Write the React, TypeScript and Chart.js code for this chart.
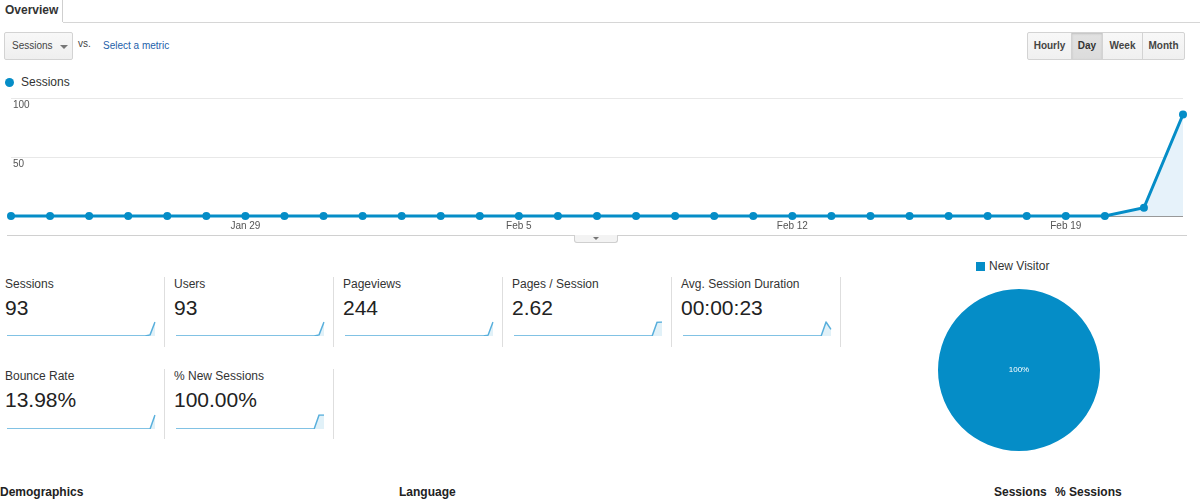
import React, { useEffect, useRef } from "react";
import { Chart, registerables } from "chart.js";
Chart.register(...registerables);

const dates = [
  "Jan 23", "Jan 24", "Jan 25", "Jan 26", "Jan 27", "Jan 28", "Jan 29", "Jan 30", "Jan 31",
  "Feb 1", "Feb 2", "Feb 3", "Feb 4", "Feb 5", "Feb 6", "Feb 7", "Feb 8", "Feb 9", "Feb 10",
  "Feb 11", "Feb 12", "Feb 13", "Feb 14", "Feb 15", "Feb 16", "Feb 17", "Feb 18", "Feb 19",
  "Feb 20", "Feb 21", "Feb 22",
];
const sessions = [0, 0, 0, 0, 0, 0, 0, 0, 0, 0, 0, 0, 0, 0, 0, 0, 0, 0, 0, 0, 0, 0, 0, 0, 0, 0, 0, 0, 0, 7, 86];
const users = [0, 0, 0, 0, 0, 0, 0, 0, 0, 0, 0, 0, 0, 0, 0, 0, 0, 0, 0, 0, 0, 0, 0, 0, 0, 0, 0, 0, 0, 7, 86];
const pageviews = [0, 0, 0, 0, 0, 0, 0, 0, 0, 0, 0, 0, 0, 0, 0, 0, 0, 0, 0, 0, 0, 0, 0, 0, 0, 0, 0, 0, 0, 14, 230];
const pagesPerSession = [0, 0, 0, 0, 0, 0, 0, 0, 0, 0, 0, 0, 0, 0, 0, 0, 0, 0, 0, 0, 0, 0, 0, 0, 0, 0, 0, 0, 0, 2.57, 2.63];
const avgDuration = [0, 0, 0, 0, 0, 0, 0, 0, 0, 0, 0, 0, 0, 0, 0, 0, 0, 0, 0, 0, 0, 0, 0, 0, 0, 0, 0, 0, 0, 44, 21];
const bounceRate = [0, 0, 0, 0, 0, 0, 0, 0, 0, 0, 0, 0, 0, 0, 0, 0, 0, 0, 0, 0, 0, 0, 0, 0, 0, 0, 0, 0, 0, 0, 15.12];
const newSessionsPct = [0, 0, 0, 0, 0, 0, 0, 0, 0, 0, 0, 0, 0, 0, 0, 0, 0, 0, 0, 0, 0, 0, 0, 0, 0, 0, 0, 0, 0, 100, 100];

const yTickValues = [0, 50, 100];
const xTickLabels = ["Jan 29", "Feb 5", "Feb 12", "Feb 19"];

const pieLabels = ["New Visitor"];
const pieValues = [93];
const pieText = "100%";

const scoreLabels = ["Sessions", "Users", "Pageviews", "Pages / Session", "Avg. Session Duration", "Bounce Rate", "% New Sessions"];
const scoreValues = ["93", "93", "244", "2.62", "00:00:23", "13.98%", "100.00%"];
const scoreSeries = [sessions, users, pageviews, pagesPerSession, avgDuration, bounceRate, newSessionsPct];

const periodButtons = ["Hourly", "Day", "Week", "Month"];
const bottomHeaders = ["Demographics", "Language", "Sessions", "% Sessions"];

const FONT = "'Liberation Sans', Arial, sans-serif";
const BLUE = "#058dc7";

function MainChart() {
  const ref = useRef<HTMLCanvasElement>(null);
  useEffect(() => {
    const chart = new Chart(ref.current!, {
      type: "line",
      data: {
        labels: dates,
        datasets: [
          {
            data: sessions,
            borderColor: BLUE,
            borderWidth: 3,
            backgroundColor: "#e6f2fa",
            fill: "origin",
            pointRadius: 4,
            pointBackgroundColor: BLUE,
            pointBorderWidth: 0,
            tension: 0,
            clip: false as any,
          },
        ],
      },
      options: {
        animation: false,
        responsive: false,
        events: [],
        layout: { padding: { left: 7, right: 17, top: 10, bottom: 2 } },
        plugins: { legend: { display: false }, tooltip: { enabled: false } },
        scales: {
          x: {
            grid: { display: false, drawTicks: false },
            border: { display: false },
            ticks: {
              autoSkip: false,
              maxRotation: 0,
              padding: 4,
              color: "#555",
              font: { family: FONT, size: 10 },
              callback: (_v: any, i: number) => (xTickLabels.includes(dates[i]) ? dates[i] : ""),
            },
          },
          y: {
            min: 0,
            max: 100,
            afterBuildTicks: (axis: any) => {
              axis.ticks = yTickValues.map((v) => ({ value: v }));
            },
            grid: {
              drawTicks: false,
              color: (ctx: any) => (ctx.tick && ctx.tick.value === 0 ? "#999" : "#e8e8e8"),
            },
            border: { display: false },
            ticks: {
              mirror: true,
              padding: 2,
              labelOffset: 7,
              color: "#555",
              font: { family: FONT, size: 10 },
              callback: (v: any) => (v === 0 ? "" : String(v)),
            },
          },
        },
      },
    });
    return () => chart.destroy();
  }, []);
  return (
    <canvas
      ref={ref}
      width={1200}
      height={150}
      style={{ position: "absolute", left: 0, top: 88, width: 1200, height: 150 }}
    />
  );
}

function Sparkline({ data, left, top }: { data: number[]; left: number; top: number }) {
  const ref = useRef<HTMLCanvasElement>(null);
  useEffect(() => {
    const chart = new Chart(ref.current!, {
      type: "line",
      data: {
        labels: dates,
        datasets: [
          {
            data,
            borderColor: "#58afdc",
            borderWidth: 1.5,
            backgroundColor: "rgba(5,141,199,0.12)",
            fill: "origin",
            pointRadius: 0,
            tension: 0,
          },
        ],
      },
      options: {
        animation: false,
        responsive: false,
        events: [],
        layout: { padding: { left: 2, right: 2, top: 2, bottom: 2 } },
        plugins: { legend: { display: false }, tooltip: { enabled: false } },
        scales: {
          x: { display: false },
          y: { display: false, min: 0, bounds: "data" },
        },
      },
    });
    return () => chart.destroy();
  }, [data]);
  return (
    <canvas
      ref={ref}
      width={152}
      height={18}
      style={{ position: "absolute", left, top, width: 152, height: 18 }}
    />
  );
}

function PieChart() {
  const ref = useRef<HTMLCanvasElement>(null);
  useEffect(() => {
    const chart = new Chart(ref.current!, {
      type: "pie",
      data: {
        labels: pieLabels,
        datasets: [{ data: pieValues, backgroundColor: [BLUE], borderWidth: 0 }],
      },
      options: {
        animation: false,
        responsive: false,
        events: [],
        plugins: {
          tooltip: { enabled: false },
          legend: { display: false },
        },
      },
    });
    return () => chart.destroy();
  }, []);
  return (
    <canvas
      ref={ref}
      width={162}
      height={162}
      style={{ position: "absolute", left: 938, top: 289, width: 162, height: 162 }}
    />
  );
}

export default function App() {
  const abs = (s: React.CSSProperties): React.CSSProperties => ({ position: "absolute", ...s });
  const btnWidths = [44, 31, 40, 43];
  let bx = 1027;
  return (
    <div style={abs({ left: 0, top: 0, width: 1200, height: 501, overflow: "hidden", background: "#fff", fontFamily: FONT, color: "#333" })}>
      {/* Tab */}
      <div style={abs({ left: 0, top: 0, width: 63, height: 22, borderRight: "1px solid #cfcfcf", boxSizing: "border-box", fontWeight: "bold", fontSize: 12, lineHeight: "21px", paddingLeft: 5, color: "#333" })}>Overview</div>
      <div style={abs({ left: 63, top: 22, width: 1137, height: 1, background: "#d6d6d6" })} />

      {/* Metric selector */}
      <div style={abs({ left: 4, top: 32, width: 69, height: 28, boxSizing: "border-box", border: "1px solid #d3d3d3", borderRadius: 2, background: "linear-gradient(#f8f8f8,#efefef)" })}>
        <div style={abs({ left: 7, top: 0, lineHeight: "26px", fontSize: 10, color: "#444" })}>Sessions</div>
        <div style={abs({ left: 55, top: 12, width: 0, height: 0, borderLeft: "4px solid transparent", borderRight: "4px solid transparent", borderTop: "4px solid #777" })} />
      </div>
      <div style={abs({ left: 78, top: 38, fontSize: 10, lineHeight: "12px", color: "#444" })}>vs.</div>
      <div style={abs({ left: 103, top: 40, fontSize: 10, lineHeight: "12px", color: "#2461aa" })}>Select a metric</div>

      {/* Period buttons */}
      {periodButtons.map((b, i) => {
        const left = bx;
        bx += btnWidths[i];
        const active = b === "Day";
        return (
          <div
            key={b}
            style={abs({
              left,
              top: 32,
              width: btnWidths[i] + (i < 3 ? 1 : 0),
              height: 28,
              boxSizing: "border-box",
              border: "1px solid #d3d3d3",
              borderRadius: i === 0 ? "2px 0 0 2px" : i === 3 ? "0 2px 2px 0" : 0,
              background: active ? "linear-gradient(#e2e2e2,#dcdcdc)" : "linear-gradient(#f8f8f8,#f0f0f0)",
              boxShadow: active ? "inset 0 1px 2px rgba(0,0,0,0.15)" : "none",
              textAlign: "center",
              lineHeight: "26px",
              fontSize: 10,
              fontWeight: "bold",
              color: active ? "#333" : "#444",
            })}
          >
            {b}
          </div>
        );
      })}

      {/* Legend */}
      <div style={abs({ left: 4.5, top: 77.5, width: 9, height: 9, borderRadius: "50%", background: BLUE })} />
      <div style={abs({ left: 21, top: 75, fontSize: 12, lineHeight: "14px", color: "#333" })}>Sessions</div>

      <MainChart />

      {/* Chart bottom line and handle */}
      <div style={abs({ left: 7, top: 235, width: 1180, height: 1, background: "#d0d0d0" })} />
      <div style={abs({ left: 574, top: 235, width: 44, height: 8, boxSizing: "border-box", border: "1px solid #cfcfcf", borderTop: "none", borderRadius: "0 0 3px 3px", background: "#f3f3f3" })}>
        <div style={abs({ left: 18, top: 2, width: 0, height: 0, borderLeft: "3px solid transparent", borderRight: "3px solid transparent", borderTop: "3px solid #777" })} />
      </div>

      {/* Scorecards */}
      {scoreLabels.map((label, i) => {
        const row = i < 5 ? 0 : 1;
        const col = i < 5 ? i : i - 5;
        const left = 5 + col * 169;
        const top = row === 0 ? 277 : 369;
        return (
          <React.Fragment key={label}>
            <div style={abs({ left, top, fontSize: 12, lineHeight: "14px", color: "#333", whiteSpace: "nowrap" })}>{label}</div>
            <div style={abs({ left, top: top + 18, fontSize: 21, lineHeight: "26px", color: "#222", whiteSpace: "nowrap" })}>{scoreValues[i]}</div>
            <Sparkline data={scoreSeries[i]} left={left} top={row === 0 ? 320 : 413} />
            <div style={abs({ left: 164 + col * 169, top: top, width: 1, height: 70, background: "#dedede" })} />
          </React.Fragment>
        );
      })}

      {/* Pie legend */}
      <div style={abs({ left: 976, top: 262, width: 9, height: 9, background: BLUE })} />
      <div style={abs({ left: 989, top: 259, fontSize: 12, lineHeight: "14px", color: "#333" })}>{pieLabels[0]}</div>

      <PieChart />
      <div style={abs({ left: 989, top: 364, width: 60, textAlign: "center", fontSize: 8, lineHeight: "12px", color: "#fff" })}>{pieText}</div>

      {/* Bottom headers */}
      <div style={abs({ left: 0, top: 485, fontSize: 12, fontWeight: "bold", lineHeight: "14px", color: "#222" })}>{bottomHeaders[0]}</div>
      <div style={abs({ left: 399, top: 485, fontSize: 12, fontWeight: "bold", lineHeight: "14px", color: "#222" })}>{bottomHeaders[1]}</div>
      <div style={abs({ left: 994, top: 485, fontSize: 12, fontWeight: "bold", lineHeight: "14px", color: "#222" })}>{bottomHeaders[2]}</div>
      <div style={abs({ left: 1055, top: 485, fontSize: 12, fontWeight: "bold", lineHeight: "14px", color: "#222" })}>{bottomHeaders[3]}</div>
    </div>
  );
}
